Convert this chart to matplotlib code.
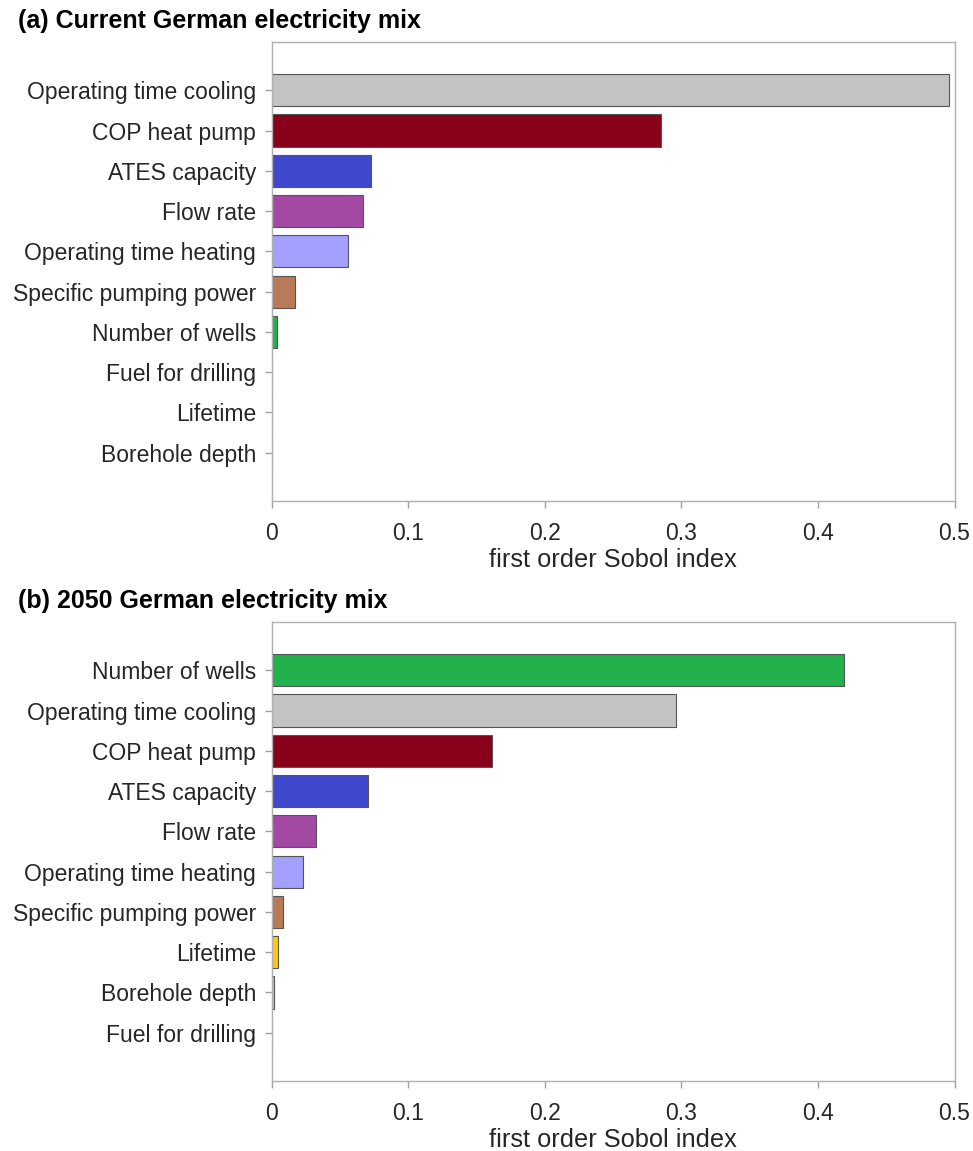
import matplotlib

matplotlib.use("Agg")
import matplotlib.pyplot as plt

plt.rcParams["font.family"] = ["Liberation Sans", "DejaVu Sans"]

# Parameter names (top to bottom) and first order Sobol indices
params_a = [
    "Operating time cooling",
    "COP heat pump",
    "ATES capacity",
    "Flow rate",
    "Operating time heating",
    "Specific pumping power",
    "Number of wells",
    "Fuel for drilling",
    "Lifetime",
    "Borehole depth",
]
sobol_a = [0.496, 0.285, 0.073, 0.067, 0.056, 0.0172, 0.0043, 0.0, 0.0, 0.0]

params_b = [
    "Number of wells",
    "Operating time cooling",
    "COP heat pump",
    "ATES capacity",
    "Flow rate",
    "Operating time heating",
    "Specific pumping power",
    "Lifetime",
    "Borehole depth",
    "Fuel for drilling",
]
sobol_b = [0.419, 0.296, 0.1617, 0.0707, 0.0326, 0.023, 0.0084, 0.0045, 0.0016, 0.0004]

# one colour per parameter, same in both panels
colors = {
    "Operating time cooling": "#c3c3c3",
    "COP heat pump": "#880019",
    "ATES capacity": "#3f48cc",
    "Flow rate": "#a349a4",
    "Operating time heating": "#a4a0fe",
    "Specific pumping power": "#b97a57",
    "Number of wells": "#22b14c",
    "Fuel for drilling": "#2b2b2b",
    "Lifetime": "#ffc90e",
    "Borehole depth": "#c8bfe7",
}

titles = ["(a) Current German electricity mix", "(b) 2050 German electricity mix"]

W, H = 973, 1151
fig = plt.figure(figsize=(W / 100, H / 100), dpi=100)


def panel(rect, names, values):
    ax = fig.add_axes(rect)
    pos = list(range(1, len(names) + 1))
    ax.barh(
        pos,
        values,
        height=0.8,
        color=[colors[n] for n in names],
        edgecolor="#555555",
        linewidth=0.8,
    )
    ax.set_xlim(0, 0.5)
    ax.set_ylim(len(names) + 1.2, -0.2)
    ax.set_yticks(pos)
    ax.set_yticklabels(names)
    ax.set_xticks([0, 0.1, 0.2, 0.3, 0.4, 0.5])
    ax.set_xticklabels(["0", "0.1", "0.2", "0.3", "0.4", "0.5"])
    ax.tick_params(
        axis="both", direction="out", length=5, width=1, color="#a0a0a0",
        labelsize=16.5, labelcolor="#262626",
    )
    ax.tick_params(axis="x", pad=10)
    ax.tick_params(axis="y", pad=6)
    for s in ax.spines.values():
        s.set_color("#b0b0b0")
        s.set_linewidth(1)
    ax.set_xlabel("first order Sobol index", fontsize=18.3, color="#262626", labelpad=2)
    return ax


left = 271.5 / W
width = (954.5 - 271.5) / W
panel([left, 1 - 501 / H, width, 459 / H], params_a, sobol_a)
panel([left, 1 - 1081 / H, width, 459 / H], params_b, sobol_b)

fig.text(18 / W, 1 - 21 / H, titles[0], fontsize=18, fontweight="bold", va="center")
fig.text(18 / W, 1 - 601 / H, titles[1], fontsize=18, fontweight="bold", va="center")

fig.savefig("out.png", dpi=100)
